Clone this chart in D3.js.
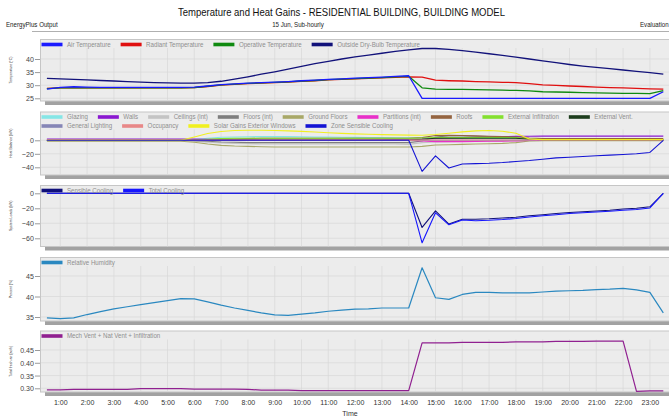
<!DOCTYPE html>
<html>
<head>
<meta charset="utf-8">
<script src="https://cdn.jsdelivr.net/npm/d3@7"></script>
<style>
  html, body { margin: 0; padding: 0; background: #fff; overflow: hidden; }
  svg { display: block; font-family: "Liberation Sans", Arial, sans-serif; }
</style>
</head>
<body>
<svg id="chart" width="669" height="418"></svg>
<script>
// ---- time axis (half-hourly timesteps) ----
const hours = [0.5,1,1.5,2,2.5,3,3.5,4,4.5,5,5.5,6,6.5,7,7.5,8,8.5,9,9.5,10,10.5,11,11.5,12,12.5,13,13.5,14,14.5,15,15.5,16,16.5,17,17.5,18,18.5,19,19.5,20,20.5,21,21.5,22,22.5,23,23.5];
const hourTicks = [1,2,3,4,5,6,7,8,9,10,11,12,13,14,15,16,17,18,19,20,21,22,23];
const hourLabels = ["1:00","2:00","3:00","4:00","5:00","6:00","7:00","8:00","9:00","10:00","11:00","12:00","13:00","14:00","15:00","16:00","17:00","18:00","19:00","20:00","21:00","22:00","23:00"];

// ---- temperatures (°C) ----
const airTemp = [28.5,29.2,29.4,29.3,29.2,29.2,29.2,29.2,29.2,29.2,29.2,29.3,29.7,30.2,30.5,30.8,31.0,31.2,31.4,31.7,31.9,32.2,32.4,32.7,32.9,33.1,33.4,33.6,25.0,25.0,25.0,25.0,25.0,25.0,25.0,25.0,25.0,25.0,25.0,25.0,25.0,25.0,25.0,25.0,25.0,25.0,27.5];
const radiantTemp = [28.8,29.0,29.0,29.0,29.0,29.0,29.0,29.0,29.0,29.0,29.0,29.1,29.5,30.0,30.3,30.6,30.8,31.0,31.2,31.5,31.7,32.0,32.2,32.4,32.6,32.8,33.0,33.2,33.1,31.9,31.7,31.6,31.4,31.3,31.1,31.0,30.6,30.1,29.9,29.7,29.5,29.3,29.1,29.0,28.8,28.6,28.5];
const operativeTemp = [28.7,29.0,29.0,29.0,29.0,29.0,29.0,29.0,29.0,29.0,29.0,29.1,29.6,30.1,30.4,30.7,30.9,31.1,31.3,31.6,31.8,32.1,32.3,32.5,32.7,32.9,33.2,33.4,29.0,28.5,28.4,28.4,28.3,28.2,28.1,28.0,27.8,27.5,27.4,27.3,27.2,27.1,27.0,26.9,26.9,26.8,27.9];
const outsideTemp = [32.6,32.4,32.2,32.0,31.8,31.6,31.4,31.2,31.0,30.9,30.8,30.8,31.0,31.5,32.3,33.2,34.2,35.1,36.1,37.2,38.2,39.1,40.0,40.8,41.5,42.2,42.9,43.5,44.0,44.0,43.7,43.2,42.6,42.0,41.4,40.7,40.0,39.3,38.6,37.9,37.3,36.8,36.3,35.8,35.3,34.8,34.2];

// ---- heat balance (kW) ----
const glazing = [0,0,0,0,0,0,0,0,0,0,0,1.0,3.0,4.5,5.0,5.3,5.5,5.5,5.4,5.2,5.0,4.8,4.6,4.4,4.2,4.0,3.8,3.6,3.5,3.4,3.3,3.2,3.0,2.8,2.5,2.0,1.2,0.8,0.8,0.8,0.8,0.8,0.8,0.8,0.8,0.8,0.8];
const walls = [2,2,2,2,2,2,2,2,2,2,2,1.8,1.5,1.2,1.0,0.8,0.5,0.5,0.5,0.5,0.5,0.5,0.5,0.5,0.5,0.8,1.0,1.2,2.0,2.8,3.5,4.0,4.5,5.0,5.4,5.8,6.0,6.2,6.2,6.2,6.2,6.2,6.2,6.2,6.2,6.2,6.2];
const ceilings = [-0.5,-0.5,-0.5,-0.5,-0.5,-0.5,-0.5,-0.5,-0.5,-0.5,-0.5,-1.5,-3.0,-4.0,-4.5,-5.0,-5.5,-5.5,-5.5,-5.5,-5.5,-5.5,-5.5,-5.5,-5.5,-5.5,-5.5,-6.0,-3.5,-2.5,-2.0,-1.8,-1.5,-1.2,-1.0,-0.8,-0.5,-0.3,-0.3,-0.3,-0.3,-0.3,-0.3,-0.3,-0.3,-0.3,-0.3];
const floors = [0,0,0,0,0,0,0,0,0,0,0,-0.5,-1.5,-2.5,-3.0,-3.5,-3.5,-3.5,-3.5,-3.5,-3.5,-3.5,-3.5,-3.5,-3.5,-3.5,-3.5,-3.5,-1.0,5.0,6.5,6.5,6.0,5.5,4.5,3.5,1.5,0.5,0.5,0.5,0.5,0.5,0.5,0.5,0.5,0.5,0.5];
const groundFloors = [-1.5,-1.5,-1.5,-1.5,-1.5,-1.5,-1.5,-1.5,-1.5,-1.5,-1.5,-3.0,-5.5,-7.5,-8.5,-9.0,-9.5,-10,-10,-10,-10,-10,-10,-10,-10,-10,-10,-10,-9.0,-7.0,-6.5,-6.0,-5.5,-5.0,-4.5,-3.5,-1.0,-0.5,-0.5,-0.5,-0.5,-0.5,-0.5,-0.5,-0.5,-0.5,-0.5];
const partitions = [0.5,0.5,0.5,0.5,0.5,0.5,0.5,0.5,0.5,0.5,0.5,0,0,0,0,0,0,0,0,0,0,0,0,0,0,0,0,0,-1.0,-2.0,-2.0,-2.0,-1.8,-1.5,-1.2,-0.8,-0.2,0,0,0,0,0,0,0,0,0,0];
const roofs = [0,0,0,0,0,0,0,0,0,0,0,0.5,1.0,1.5,2.0,2.5,3,3,3,3,3,3,3,3,3,3,3,3,4.0,7.0,7.5,7.0,6.5,6.0,5.5,5.0,3.5,2.5,2.5,2.5,2.5,2.5,2.5,2.5,2.5,2.5,2.5];
const extInfiltration = [0,0,0,0,0,0,0,0,0,0,0,0.5,1.5,2.5,3,3,3,3,3,3,3,3,3,3,3,3,3,3,3.5,4,4,4,4,4,4,4,2.0,1,1,1,1,1,1,1,1,1,1];
const extVent = [0,0,0,0,0,0,0,0,0,0,0,0.5,0.5,0.5,0.5,0.5,0.5,0.5,0.5,0.5,0.5,0.5,0.5,0.5,0.5,0.5,0.5,0.5,1.5,3,3,3,3,3,3,3,1.5,1,1,1,1,1,1,1,1,1,1];
const genLighting = [0.3,0.3,0.3,0.3,0.3,0.3,0.3,0.3,0.3,0.3,0.3,0,0,0,0,0,0,0,0,0,0,0,0,0,0,0,0,0,0,0,0,0,0,0,0,0,0,0.8,0.8,0.8,0.8,0.8,0.8,0.8,0.8,0.8,0.8];
const occupancy = [1,1,1,1,1,1,1,1,1,1,1,0.3,0.3,0.3,0.3,0.3,0.3,0.3,0.3,0.3,0.3,0.3,0.3,0.3,0.3,0.3,0.3,0.3,0.5,0.5,0.5,0.5,0.5,0.5,0.5,0.5,0.5,1,1,1,1,1,1,1,1,1,1];
const solarGains = [0,0,0,0,0,0,0,0,0,0,0,5.0,10.0,13.0,14.5,15.0,15.0,14.6,14.0,13.2,12.2,11.2,10.3,9.5,8.9,8.4,8.0,7.6,7.5,8.5,10.5,12.5,14.0,14.5,13.5,10.5,2.0,1.0,1.0,1.0,1.0,1.0,1.0,1.0,1.0,1.0,1.0];
const zoneSensibleCooling = [0,0,0,0,0,0,0,0,0,0,0,0,0,0,0,0,0,0,0,0,0,0,0,0,0,0,0,0,-46,-23,-41,-35,-34.5,-34,-33,-31.5,-30,-28,-26,-25,-24,-23,-22,-21,-20,-18,0];

// ---- system loads (kW) ----
const sensibleCooling = [0,0,0,0,0,0,0,0,0,0,0,0,0,0,0,0,0,0,0,0,0,0,0,0,0,0,0,0,-45.5,-23.5,-41,-34.7,-34.5,-34,-33,-32,-30,-28.5,-27,-25.5,-24.5,-23.5,-22.5,-21,-20,-18,0];
const totalCooling = [0,0,0,0,0,0,0,0,0,0,0,0,0,0,0,0,0,0,0,0,0,0,0,0,0,0,0,0,-66,-26,-42,-35.5,-36.5,-36,-35,-33.5,-31.5,-30,-28.5,-27,-26,-25,-24,-22.5,-21.5,-19.5,0];

// ---- relative humidity (%) ----
const relHumidity = [34.8,34.6,34.8,35.6,36.3,37.0,37.5,38.0,38.5,39.0,39.5,39.4,38.7,37.9,37.2,36.6,36.0,35.5,35.4,35.7,36.0,36.4,36.7,36.9,37.0,37.2,37.2,37.2,47.0,39.7,39.3,40.5,41.0,41.0,40.9,40.9,40.9,41.1,41.3,41.4,41.5,41.7,41.8,42.0,41.6,41.0,36.0];

// ---- fresh air (ac/h) ----
const airChanges = [0.294,0.294,0.296,0.296,0.296,0.296,0.296,0.299,0.299,0.299,0.299,0.297,0.297,0.297,0.297,0.296,0.293,0.293,0.293,0.291,0.291,0.291,0.291,0.291,0.291,0.291,0.291,0.291,0.478,0.478,0.478,0.480,0.480,0.480,0.480,0.482,0.482,0.482,0.484,0.484,0.484,0.485,0.485,0.485,0.288,0.290,0.290];

// ---------------------------------------------------------------
const svg = d3.select("#chart");
const SX = 0.88;              // horizontal squeeze applied to glyphs
const FRAME_L = 40, FRAME_R = 700;

const x = d3.scaleLinear().domain([0, 24]).range([33.5, 33.5 + 26.8 * 24]);

function addText(parent, px, py, str, size, o = {}) {
  const sx = o.sx ?? SX;
  const t = parent.append("text")
    .attr("transform", `translate(${px},${py})` + (o.rotate ? ` rotate(${o.rotate})` : "") + ` scale(${sx},1)`)
    .attr("font-size", size)
    .attr("fill", o.fill || "#333")
    .attr("text-anchor", o.anchor || "start")
    .text(str);
  if (o.textLength) t.attr("textLength", o.textLength / sx).attr("lengthAdjust", "spacingAndGlyphs");
  return t;
}

// ---- header ----
addText(svg, 341.5, 15.5, "Temperature and Heat Gains - RESIDENTIAL BUILDING, BUILDING MODEL", 11,
        { anchor: "middle", sx: 1, textLength: 327, fill: "#111" });
addText(svg, 298, 26.5, "15 Jun, Sub-hourly", 7, { anchor: "middle", fill: "#222" });
addText(svg, 6, 26.5, "EnergyPlus Output", 7, { fill: "#222" });
addText(svg, 640, 26.5, "Evaluation", 7, { fill: "#222" });
svg.append("line").attr("x1", 32).attr("x2", 669).attr("y1", 31.5).attr("y2", 31.5)
   .attr("stroke", "#b0b0b0").attr("stroke-width", 1);

// ---- panel definitions ----
const panels = [
  { top: 39, bottom: 101, domain: [25, 40], range: [98.3, 59], ticks: [25, 30, 35, 40], fmt: d3.format("d"),
    title: "Temperature (°C)",
    legend: [[
      { name: "Air Temperature", color: "#1a1aff", values: airTemp },
      { name: "Radiant Temperature", color: "#e01010", values: radiantTemp },
      { name: "Operative Temperature", color: "#108a10", values: operativeTemp },
      { name: "Outside Dry-Bulb Temperature", color: "#12127a", values: outsideTemp }
    ]],
    order: ["Outside Dry-Bulb Temperature", "Radiant Temperature", "Operative Temperature", "Air Temperature"],
    width: 1.3 },
  { top: 111.5, bottom: 175, domain: [-40, 0], range: [167.3, 140.3], ticks: [-40, -20, 0], fmt: d3.format("d"),
    title: "Heat Balance (kW)",
    legend: [[
      { name: "Glazing", color: "#86e6e6", values: glazing },
      { name: "Walls", color: "#8a18d0", values: walls },
      { name: "Ceilings (int)", color: "#c4c4c4", values: ceilings },
      { name: "Floors (int)", color: "#7e7e7e", values: floors },
      { name: "Ground Floors", color: "#a8a868", values: groundFloors },
      { name: "Partitions (int)", color: "#e830c8", values: partitions },
      { name: "Roofs", color: "#946440", values: roofs },
      { name: "External Infiltration", color: "#84e030", values: extInfiltration },
      { name: "External Vent.", color: "#1c3c1c", values: extVent }
    ], [
      { name: "General Lighting", color: "#8686b6", values: genLighting },
      { name: "Occupancy", color: "#e88888", values: occupancy },
      { name: "Solar Gains Exterior Windows", color: "#f0f020", values: solarGains },
      { name: "Zone Sensible Cooling", color: "#1414d4", values: zoneSensibleCooling }
    ]],
    width: 1.1 },
  { top: 185, bottom: 246.5, domain: [-60, 0], range: [238.3, 193.3], ticks: [-60, -40, -20, 0], fmt: d3.format("d"),
    title: "System Loads (kW)",
    legend: [[
      { name: "Sensible Cooling", color: "#10107a", values: sensibleCooling },
      { name: "Total Cooling", color: "#1515ff", values: totalCooling }
    ]],
    width: 1.1 },
  { top: 257, bottom: 321, domain: [35, 45], range: [317, 276], ticks: [35, 40, 45], fmt: d3.format("d"),
    title: "Percent (%)",
    legend: [[ { name: "Relative Humidity", color: "#2a88c0", values: relHumidity } ]],
    width: 1.2 },
  { top: 330.5, bottom: 392, domain: [0.30, 0.45], range: [388.3, 350], ticks: [0.30, 0.35, 0.40, 0.45], fmt: d3.format(".2f"),
    title: "Total fresh air (ac/h)",
    legend: [[ { name: "Mech Vent + Nat Vent + Infiltration", color: "#902090", values: airChanges } ]],
    width: 1.2 }
];

panels.forEach(p => {
  const g = svg.append("g");
  const y = d3.scaleLinear().domain(p.domain).range(p.range);
  const gridTop = p.top + 9 * p.legend.length;

  // drop shadow under the frame
  g.append("rect").attr("x", FRAME_L + 5).attr("y", p.bottom).attr("width", FRAME_R).attr("height", 4)
   .attr("fill", "#a2a2a2");
  // frame
  g.append("rect").attr("x", FRAME_L + 0.5).attr("y", p.top + 0.5)
   .attr("width", FRAME_R - FRAME_L).attr("height", p.bottom - p.top - 0.5)
   .attr("fill", "#ececec").attr("stroke", "#c6c6c6").attr("stroke-width", 1);

  // grid
  g.append("g").selectAll("line").data(d3.range(1, 25)).join("line")
   .attr("x1", d => x(d)).attr("x2", d => x(d))
   .attr("y1", gridTop).attr("y2", p.bottom)
   .attr("stroke", "#d9d9d9").attr("stroke-width", 0.7);
  g.append("g").selectAll("line").data(p.ticks).join("line")
   .attr("x1", FRAME_L + 1).attr("x2", FRAME_R)
   .attr("y1", d => y(d)).attr("y2", d => y(d))
   .attr("stroke", "#d9d9d9").attr("stroke-width", 0.7);

  // y axis
  const ax = g.append("g").attr("transform", `translate(${FRAME_L},0)`)
    .call(d3.axisLeft(y).tickValues(p.ticks).tickFormat(p.fmt).tickSize(5).tickPadding(2));
  ax.select(".domain").remove();
  ax.selectAll(".tick line").attr("stroke", "#9a9a9a");
  ax.selectAll(".tick text").attr("font-size", 8).attr("fill", "#444")
    .attr("font-family", '"Liberation Sans", Arial, sans-serif')
    .attr("transform", `scale(${SX},1)`);

  // y axis title
  addText(svg, 11.5, (p.top + p.bottom) / 2, p.title, 4, { rotate: -90, anchor: "middle", fill: "#333" });

  // series
  const all = p.legend.flat();
  const drawn = p.order ? p.order.map(n => all.find(s => s.name === n)) : all;
  const line = d3.line().x((d, i) => x(hours[i])).y(d => y(d));
  drawn.forEach(s => {
    g.append("path").datum(s.values).attr("d", line)
     .attr("fill", "none").attr("stroke", s.color).attr("stroke-width", p.width)
     .attr("stroke-linejoin", "round");
  });

  // legend
  p.legend.forEach((row, r) => {
    let cx = FRAME_L + 1.5;
    const ly = p.top + 5.5 + r * 9;
    row.forEach(s => {
      g.append("rect").attr("x", cx).attr("y", ly - 1.8).attr("width", 21).attr("height", 3.6)
       .attr("fill", s.color);
      const t = addText(g, cx + 25.5, ly + 2.4, s.name, 7, { fill: "#8e8e8e" });
      cx += 25.5 + t.node().getComputedTextLength() * SX + 10;
    });
  });
});

// ---- shared time axis ----
const xa = svg.append("g").attr("transform", "translate(0,398)")
  .call(d3.axisBottom(x).tickValues(hourTicks).tickFormat((d, i) => hourLabels[i]).tickSize(0).tickPadding(1));
xa.select(".domain").remove();
xa.selectAll(".tick text").attr("font-size", 8).attr("fill", "#333")
  .attr("font-family", '"Liberation Sans", Arial, sans-serif')
  .attr("transform", `scale(${SX},1)`);
addText(svg, 350, 415.5, "Time", 8, { anchor: "middle", fill: "#333" });
</script>
</body>
</html>
